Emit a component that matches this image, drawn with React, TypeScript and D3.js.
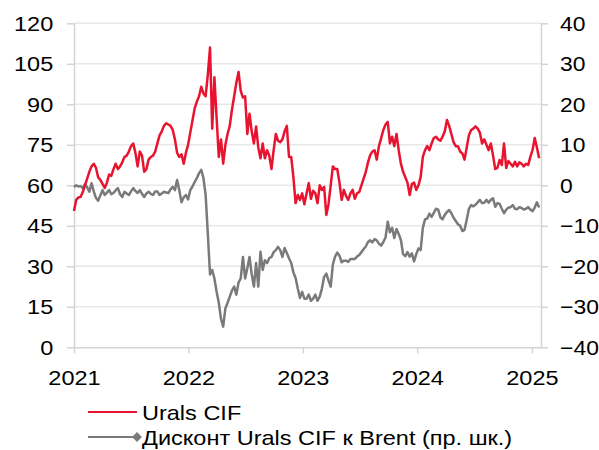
import React, { useEffect, useRef } from "react";
import * as d3 from "d3";

// weekly observations starting 2021-01-01
const startDate = new Date(2021, 0, 1);
const endDate = new Date(2025, 0, 30);

// Urals CIF, $/bbl (left axis)
const urals = [
  50.5, 54.6, 55.5, 55.7, 57.5, 60, 62.5, 65, 67, 68,
  66.5, 63, 62, 60.5, 59, 61, 64, 63.5, 66, 68,
  66, 67, 68.5, 70.5, 71, 72.5, 74.5, 75.5, 72, 67,
  72.5, 71, 65, 66, 69.5, 70.5, 71, 72.5, 75.5, 78.5,
  80, 82, 83, 82.5, 82, 80.5, 77, 72, 70.5, 71.5,
  68, 72, 75, 79.5, 84, 88.5, 91, 93, 96.5, 94,
  93, 101, 111, 81, 100, 85, 70.5, 77, 68, 75,
  79, 82, 88, 93, 98, 102, 95, 92.5, 93, 79,
  86.5, 80, 75.5, 81.8, 74, 70, 75.5, 70, 73, 71,
  66, 73, 79, 76.5, 76, 77, 80, 82, 70.5, 70.5,
  63, 53.4, 56.4, 54.6, 57, 53, 57, 60.8, 55, 58,
  57, 53.4, 60, 58.3, 59.4, 49, 53, 60, 67, 66,
  66, 61, 54.6, 58.3, 56, 54.6, 57, 58.3, 55, 57,
  57.5, 60, 62.5, 65, 68.5, 71.2, 72.5, 73, 69.5, 74.5,
  77.5, 80.5, 82.5, 83.5, 75.5, 78, 74.5, 79, 73, 68,
  65, 63, 61, 56.4, 60.5, 61, 58.3, 60, 63, 70.5,
  73, 74.5, 73, 75.5, 77.5, 78, 77, 76.5, 78, 80,
  84.2, 82, 79, 76, 74.5, 74.5, 72.5, 71.8, 69.5, 74,
  78.5, 80.5, 81, 81.8, 81, 79.5, 75.5, 77, 75, 73,
  75.5, 71, 66, 66.5, 69.4, 67.5, 75.5, 66.4, 69, 68,
  67, 68.7, 67, 68.5, 68, 67, 68, 67.5, 70.5, 73,
  77.5, 74, 70,
];

// discount of Urals CIF to Brent, $/bbl (right axis)
const discount = [
  -0.4, 0, -0.3, -0.2, -0.7, 0.3, -0.5, -1.6, 0.5, -1.5,
  -3.1, -3.8, -2.5, -1.2, -2.4, -1.8, -1.2, -2.2, -1.9, -1.2,
  -0.7, -2.2, -2.9, -1.6, -2, -2.4, -1.5, -0.7, -1.4, -1.9,
  -1.2, -2.1, -2.9, -2, -1.6, -2.1, -2.4, -1.5, -1.5, -2.4,
  -2, -1.6, -1.8, -1.9, -1, -0.4, -1.2, 1.3, -1.2, -4.2,
  -3, -2.4, -3.5, -1.2, -0.3, 0.8, 1.8, 3, 3.8, 1.8,
  -2.4, -12, -22, -20.9, -23, -26.3, -29, -33, -34.9, -30.4,
  -29, -27.5, -26, -25, -27, -24, -23, -17.7, -23, -20.5,
  -17.7, -22, -25, -19.2, -25, -16.4, -20.9, -18.5, -19.2, -18,
  -17.7, -16.5, -16, -15.2, -16, -17.7, -15.5, -16.7, -18, -19.2,
  -21.5, -22.9, -25.5, -27.8, -26.3, -28, -28, -27, -28.5, -28,
  -27, -28.5, -27.5, -25.5, -22.6, -21.8, -23.5, -25, -19.5, -17.6,
  -16.6, -17.4, -19, -18.6, -18.6, -18.9, -18.2, -18.2, -18.2, -17.6,
  -17.2, -16.5, -15.8, -15.1, -14, -13.6, -14.1, -13.3, -13.6, -14.4,
  -14.9, -14, -12.9, -9, -11.6, -10.5, -13, -10.8, -12, -13.5,
  -17, -17.5, -16.5, -17.6, -16.8, -18.8, -17, -15.6, -16, -10.5,
  -8.4, -8.2, -7, -7.8, -6.8, -5.8, -6, -7.9, -8.4, -7.3,
  -6.6, -6.1, -6.9, -8, -8.8, -9.6, -10, -11.3, -11, -8.5,
  -5.8, -4.9, -5.2, -4.8, -4.2, -3.6, -4.4, -4.3, -3.6, -4.3,
  -3.6, -3.2, -5.3, -4.4, -4.6, -5.8, -6.9, -6, -5.5, -5.4,
  -4.9, -5.8, -5.9, -5.4, -5.6, -6, -5.8, -5.4, -6, -6.4,
  -5.5, -4.2, -5.5,
];

const leftTicks = [0, 15, 30, 45, 60, 75, 90, 105, 120];
const rightTicks = [-40, -30, -20, -10, 0, 10, 20, 30, 40];
const yearTicks = [2021, 2022, 2023, 2024, 2025];
const legendLabels = ["Urals CIF", "Дисконт Urals CIF к Brent (пр. шк.)"];

const RED = "#E8142F";
const GREY = "#7A7A7A";
const FONT = "'Liberation Sans', Arial, sans-serif";
const STRETCH = "scale(1.12,1)";

const Chart = () => {
  const ref = useRef(null);

  useEffect(() => {
    const width = 599;
    const height = 450;
    const left = 74, right = 541, top = 23.3, bottom = 347.3;

    const svg = d3.select(ref.current)
      .attr("width", width)
      .attr("height", height);
    svg.selectAll("*").remove();

    const dates = urals.map((_, i) => d3.timeDay.offset(startDate, i * 7));

    const x = d3.scaleTime().domain([startDate, endDate]).range([left, right]);
    const yL = d3.scaleLinear().domain([0, 120]).range([bottom, top]);
    const yR = d3.scaleLinear().domain([-40, 40]).range([bottom, top]);

    // grid
    svg.append("g")
      .selectAll("line")
      .data(leftTicks.slice(1))
      .enter()
      .append("line")
      .attr("x1", left)
      .attr("x2", right)
      .attr("y1", d => yL(d))
      .attr("y2", d => yL(d))
      .attr("stroke", "#E8E8E8")
      .attr("stroke-width", 1.5);

    const styleAxis = (g, stretch = STRETCH) => {
      g.select(".domain").attr("stroke", "#D4D4D4").attr("stroke-width", 1.5);
      g.selectAll(".tick line").attr("stroke", "#D4D4D4").attr("stroke-width", 1.5);
      g.selectAll(".tick text")
        .attr("fill", "#000")
        .style("font-family", FONT)
        .style("font-size", "21px")
        .attr("transform", stretch);
    };

    // left axis
    svg.append("g")
      .attr("transform", `translate(${left},0)`)
      .call(d3.axisLeft(yL).tickValues(leftTicks).tickSize(7).tickSizeOuter(0).tickPadding(11.5))
      .call(g => styleAxis(g));

    // right axis
    svg.append("g")
      .attr("transform", `translate(${right},0)`)
      .call(d3.axisRight(yR).tickValues(rightTicks).tickSize(7).tickSizeOuter(0).tickPadding(10.5))
      .call(g => styleAxis(g, "scale(1.09,1)"));

    // bottom axis
    svg.append("g")
      .attr("transform", `translate(0,${bottom})`)
      .call(
        d3.axisBottom(x)
          .tickValues(yearTicks.map(y => new Date(y, 0, 1)))
          .tickFormat(d3.timeFormat("%Y"))
          .tickSize(6)
          .tickSizeOuter(0)
          .tickPadding(17)
      )
      .call(g => styleAxis(g));

    // series
    const lineR = d3.line().x((d, i) => x(dates[i])).y(d => yR(d));
    const lineL = d3.line().x((d, i) => x(dates[i])).y(d => yL(d));

    svg.append("path")
      .datum(discount)
      .attr("d", lineR)
      .attr("fill", "none")
      .attr("stroke", GREY)
      .attr("stroke-width", 2.5)
      .attr("stroke-linejoin", "round");

    svg.append("path")
      .datum(urals)
      .attr("d", lineL)
      .attr("fill", "none")
      .attr("stroke", RED)
      .attr("stroke-width", 2.5)
      .attr("stroke-linejoin", "round");

    // legend
    const legend = svg.append("g");
    const rows = [
      { label: legendLabels[0], color: RED, y: 412, marker: false },
      { label: legendLabels[1], color: GREY, y: 437, marker: true },
    ];
    rows.forEach(r => {
      legend.append("line")
        .attr("x1", 88)
        .attr("x2", 137)
        .attr("y1", r.y)
        .attr("y2", r.y)
        .attr("stroke", r.color)
        .attr("stroke-width", 2);
      if (r.marker) {
        legend.append("path")
          .attr("d", d3.symbol().type(d3.symbolSquare).size(48)())
          .attr("transform", `translate(137,${r.y}) rotate(45)`)
          .attr("fill", r.color);
      }
      legend.append("text")
        .attr("transform", `translate(142,${r.y + 8}) ${STRETCH}`)
        .style("font-family", FONT)
        .style("font-size", "21px")
        .attr("fill", "#000")
        .text(r.label);
    });
  }, []);

  return <svg ref={ref} style={{ position: "absolute", left: 0, top: 0 }}></svg>;
};

export default function App() {
  return <Chart />;
}
